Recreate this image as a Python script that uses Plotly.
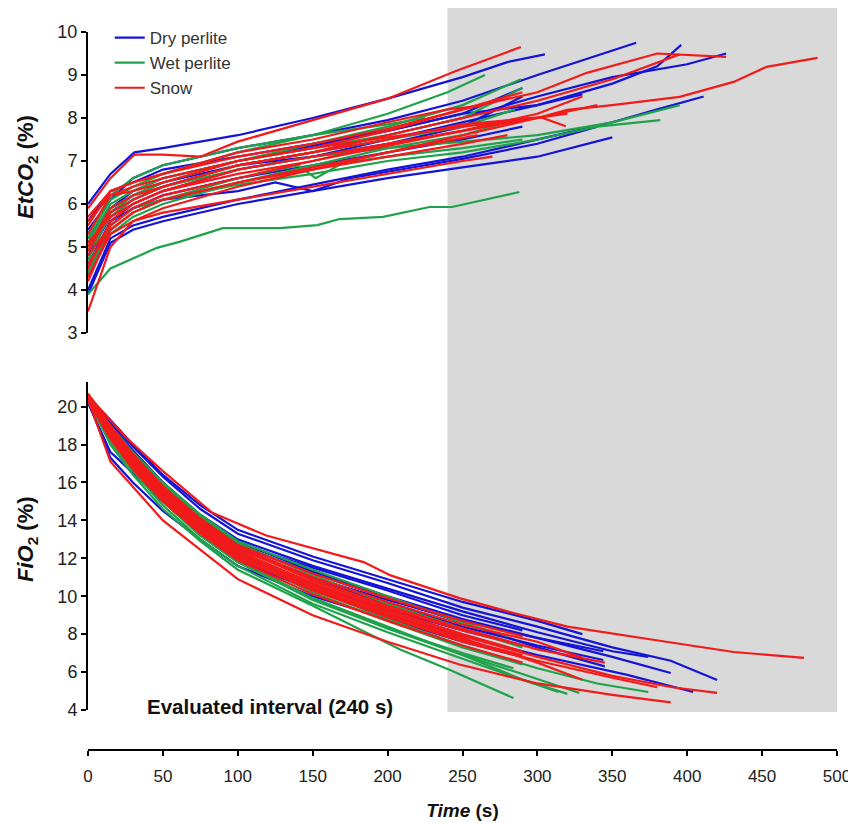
import plotly.graph_objects as go

# ---------------- data: each line = list of [time_s, value] ----------------
etco2_dry = [
    [[0,6.0],[15,6.7],[31,7.2],[50,7.3],[100,7.6],[150,8.0],[200,8.45],[250,8.95],[280,9.3],[305,9.48]],
    [[0,5.4],[15,6.1],[30,6.6],[50,6.9],[100,7.3],[150,7.6],[200,7.95],[250,8.4],[300,9.0],[340,9.45],[366,9.75]],
    [[0,4.3],[15,5.6],[30,6.0],[50,6.3],[100,6.8],[150,7.1],[200,7.5],[250,7.9],[300,8.3],[350,8.8],[380,9.2],[396,9.7]],
    [[0,4.0],[15,5.2],[30,5.5],[50,5.7],[100,6.1],[150,6.45],[200,6.8],[250,7.1],[300,7.5],[350,7.9],[380,8.2],[411,8.5]],
    [[0,3.9],[15,5.1],[30,5.4],[50,5.6],[100,6.0],[150,6.3],[200,6.6],[250,6.85],[300,7.1],[350,7.55]],
    [[0,5.0],[15,5.8],[30,6.2],[50,6.5],[100,6.9],[150,7.2],[200,7.6],[250,8.0],[300,8.5],[350,8.95],[400,9.25],[426,9.5]],
    [[0,4.6],[15,5.6],[30,5.9],[50,6.1],[100,6.3],[125,6.5],[150,6.3],[175,6.6],[200,6.75],[250,7.05],[300,7.4],[340,7.8]],
    [[0,4.8],[15,5.7],[30,6.1],[50,6.4],[100,6.9],[150,7.1],[200,7.4],[250,7.8],[290,8.5]],
    [[0,5.2],[15,5.9],[30,6.3],[50,6.6],[100,7.0],[150,7.35],[200,7.7],[250,8.1],[300,8.3],[330,8.55]],
    [[0,4.4],[15,5.5],[30,5.9],[50,6.2],[100,6.6],[150,6.9],[200,7.2],[250,7.5],[290,7.8]],
    [[0,5.6],[15,6.3],[30,6.5],[50,6.8],[100,7.1],[150,7.4],[200,7.7],[250,8.1],[290,8.7]],
]
etco2_wet = [
    [[0,3.9],[15,4.5],[46,4.98],[61,5.12],[90,5.44],[128,5.44],[153,5.51],[168,5.65],[197,5.7],[228,5.93],[243,5.93],[288,6.28]],
    [[0,4.6],[15,5.5],[30,5.9],[50,6.1],[100,6.45],[150,6.7],[200,7.0],[250,7.2],[300,7.5],[340,7.8],[382,7.95]],
    [[0,5.0],[15,5.9],[30,6.2],[50,6.4],[100,6.8],[150,7.1],[200,7.3],[250,7.45],[300,7.6],[350,7.9],[395,8.3]],
    [[0,5.1],[15,6.0],[30,6.3],[50,6.6],[100,7.0],[150,7.4],[200,7.8],[250,8.3],[289,8.9]],
    [[0,5.3],[15,6.2],[30,6.6],[50,6.9],[100,7.3],[150,7.6],[200,8.1],[240,8.6],[265,9.0]],
    [[0,4.5],[15,5.4],[30,5.8],[50,6.1],[100,6.6],[140,6.9],[152,6.6],[170,6.95],[200,7.1],[250,7.3],[290,7.5]],
    [[0,4.7],[15,5.8],[30,6.2],[50,6.5],[100,7.0],[150,7.3],[200,7.6],[250,8.0],[290,8.7]],
    [[0,4.9],[15,5.7],[30,6.1],[50,6.4],[100,6.9],[150,7.2],[200,7.5],[250,7.8],[285,8.2]],
    [[0,4.4],[15,5.3],[30,5.7],[50,6.0],[100,6.5],[150,6.9],[200,7.3],[250,7.6],[280,7.9]],
    [[0,5.2],[15,6.1],[30,6.4],[50,6.7],[100,7.2],[150,7.6],[200,7.85],[225,8.0]],
]
etco2_snow = [
    [[0,5.9],[15,6.6],[31,7.15],[50,7.15],[75,7.1],[100,7.45],[150,7.95],[200,8.45],[246,9.1],[289,9.65]],
    [[0,5.6],[15,6.2],[30,6.4],[50,6.6],[100,7.0],[150,7.3],[200,7.55],[250,7.8],[300,8.0],[320,8.19],[350,8.3],[395,8.49],[431,8.84],[453,9.19],[487,9.4]],
    [[0,5.5],[15,6.3],[30,6.5],[50,6.7],[100,7.1],[150,7.4],[200,7.75],[250,8.2],[300,8.6],[333,9.05],[380,9.5],[426,9.42]],
    [[0,5.0],[15,5.9],[30,6.2],[50,6.4],[100,6.9],[150,7.2],[200,7.6],[250,8.0],[300,8.4],[350,8.9],[395,9.48]],
    [[0,4.9],[15,5.8],[30,6.1],[50,6.4],[100,6.9],[150,7.2],[200,7.5],[250,7.85],[302,8.02],[319,7.81]],
    [[0,3.5],[15,5.0],[30,5.6],[50,5.9],[100,6.4],[150,6.8],[200,7.2],[250,7.6],[300,8.0],[340,8.3]],
    [[0,4.5],[15,5.6],[30,6.0],[50,6.3],[100,6.8],[150,7.1],[200,7.4],[250,7.7],[290,8.0]],
    [[0,5.3],[15,6.2],[30,6.3],[50,6.5],[100,7.0],[150,7.3],[200,7.7],[250,8.2],[290,8.6]],
    [[0,4.8],[15,5.5],[30,5.9],[50,6.2],[100,6.6],[150,7.0],[200,7.35],[250,7.7],[300,8.1],[330,8.5]],
    [[0,4.2],[15,5.4],[30,5.8],[50,6.1],[100,6.5],[150,6.85],[200,7.2],[260,7.6]],
    [[0,5.7],[15,6.3],[30,6.5],[50,6.7],[100,7.2],[150,7.5],[200,7.9],[240,8.2],[262,8.28]],
    [[0,5.1],[15,5.7],[30,6.0],[50,6.3],[100,6.7],[150,7.0],[200,7.4],[250,7.7],[300,8.0],[320,8.1]],
    [[0,4.6],[15,5.4],[30,5.8],[50,6.1],[100,6.5],[150,6.8],[200,7.1],[250,7.4],[280,7.6]],
    [[0,4.3],[15,5.3],[30,5.6],[50,5.8],[100,6.1],[150,6.4],[200,6.7],[250,7.0],[270,7.1]],
]

fio2_dry = [
    [[0,20.5],[15,19.2],[30,17.9],[50,16.3],[75,14.6],[100,13.3],[150,11.9],[200,10.7],[250,9.4],[300,8.4],[350,7.3],[389,6.6],[420,5.58]],
    [[0,20.4],[15,19.0],[30,17.6],[50,16.0],[75,14.3],[100,13.0],[150,11.6],[200,10.4],[250,9.2],[300,8.1],[350,7.1],[374,6.8]],
    [[0,20.6],[15,19.1],[30,17.7],[50,16.0],[75,14.2],[100,12.9],[150,11.3],[200,10.0],[250,8.8],[300,7.8],[350,6.8],[389,5.95]],
    [[0,20.3],[15,18.6],[30,17.0],[50,15.3],[75,13.7],[100,12.5],[150,11.0],[200,9.8],[250,8.7],[300,7.8],[344,7.1]],
    [[0,20.5],[15,18.8],[30,17.3],[50,15.6],[75,13.9],[100,12.6],[150,10.9],[200,9.6],[250,8.4],[300,7.4],[344,6.64]],
    [[0,20.2],[15,17.6],[30,16.5],[50,15.0],[75,13.3],[100,11.9],[150,10.3],[200,9.0],[250,7.9],[300,6.9],[360,5.85],[404,4.95]],
    [[0,20.4],[15,18.3],[30,16.8],[50,15.1],[75,13.5],[100,12.2],[150,10.6],[200,9.3],[250,8.2],[290,7.4]],
    [[0,20.6],[15,18.9],[30,17.4],[50,15.8],[75,14.2],[100,12.8],[150,11.5],[200,10.3],[250,9.0],[290,8.2]],
    [[0,20.5],[15,19.3],[30,18.0],[50,16.4],[75,14.8],[100,13.5],[150,12.1],[200,10.9],[250,9.7],[300,8.7],[330,8.0]],
    [[0,20.3],[15,17.3],[30,16.0],[50,14.5],[75,13.0],[100,11.6],[150,10.0],[200,8.8],[250,7.6],[290,6.8]],
    [[0,20.5],[15,18.7],[30,17.2],[50,15.6],[75,14.0],[100,12.7],[150,11.2],[200,9.9],[250,8.6],[300,7.3],[345,6.3]],
]
fio2_wet = [
    [[0,20.4],[15,18.0],[30,16.4],[50,14.6],[75,12.9],[100,11.4],[150,9.5],[208,7.2],[242,6.1],[284,4.63]],
    [[0,20.5],[15,18.5],[30,16.9],[50,15.1],[75,13.3],[100,11.9],[150,9.9],[200,8.3],[250,6.9],[290,5.9],[328,4.9]],
    [[0,20.4],[15,18.4],[30,16.8],[50,15.0],[75,13.2],[100,11.8],[150,9.9],[200,8.4],[250,6.9],[290,5.6],[314,4.95]],
    [[0,20.6],[15,18.8],[30,17.3],[50,15.6],[75,13.8],[100,12.4],[150,10.4],[200,8.8],[250,7.4],[300,6.2],[340,5.4],[374,4.95]],
    [[0,20.3],[15,18.4],[30,16.8],[50,15.0],[75,13.2],[100,11.8],[150,9.8],[200,8.3],[250,7.0],[284,6.2]],
    [[0,20.5],[15,18.9],[30,17.5],[50,15.9],[75,14.2],[100,12.8],[150,11.1],[200,9.6],[250,8.3],[290,7.3]],
    [[0,20.4],[15,18.7],[30,17.1],[50,15.4],[75,13.6],[100,12.2],[150,10.2],[200,8.7],[250,7.3],[290,6.4]],
    [[0,20.6],[15,19.0],[30,17.6],[50,16.0],[75,14.3],[100,12.9],[150,11.4],[200,10.0],[250,8.6],[280,7.9]],
    [[0,20.3],[15,18.1],[30,16.6],[50,14.8],[75,13.0],[100,11.6],[150,9.6],[200,8.1],[250,6.7],[290,5.6],[320,4.85]],
]
fio2_snow = [
    [[0,20.6],[25,18.4],[50,16.6],[83,14.4],[119,13.2],[150,12.55],[184,11.8],[202,11.1],[248,9.9],[280,9.2],[320,8.4],[386,7.6],[431,7.06],[478,6.75]],
    [[0,20.4],[15,17.1],[50,14.0],[100,10.9],[150,9.0],[200,7.6],[248,6.4],[300,5.4],[350,4.8],[389,4.4]],
    [[0,20.5],[15,18.6],[30,17.1],[50,15.4],[75,13.7],[100,12.3],[150,10.6],[200,9.2],[250,7.9],[300,6.8],[350,5.8],[390,5.2],[420,4.9]],
    [[0,20.6],[15,18.8],[30,17.3],[50,15.6],[75,13.9],[100,12.6],[150,11.0],[200,9.7],[250,8.5],[300,7.6],[330,6.75]],
    [[0,20.4],[15,18.5],[30,16.9],[50,15.2],[75,13.5],[100,12.1],[150,10.4],[200,9.0],[250,7.7],[300,6.6],[350,5.7],[380,5.2]],
    [[0,20.5],[15,18.7],[30,17.2],[50,15.5],[75,13.8],[100,12.4],[150,10.7],[200,9.3],[250,8.0],[290,7.1]],
    [[0,20.7],[15,19.0],[30,17.5],[50,15.8],[75,14.1],[100,12.7],[150,11.2],[200,9.9],[250,8.7],[290,7.9]],
    [[0,20.3],[15,18.3],[30,16.7],[50,15.0],[75,13.3],[100,11.9],[150,10.1],[200,8.7],[250,7.4],[290,6.5]],
    [[0,20.5],[15,18.6],[30,17.0],[50,15.3],[75,13.6],[100,12.2],[150,10.5],[200,9.1],[250,7.8],[300,6.5],[330,5.6]],
    [[0,20.6],[15,18.9],[30,17.4],[50,15.7],[75,14.0],[100,12.6],[150,10.8],[200,9.4],[250,8.2],[290,7.4]],
    [[0,20.4],[15,18.4],[30,16.8],[50,15.1],[75,13.4],[100,12.0],[150,10.3],[200,8.9],[250,7.6],[290,6.8]],
    [[0,20.5],[15,18.8],[30,17.2],[50,15.5],[75,13.8],[100,12.5],[150,10.9],[200,9.5],[250,8.3],[300,7.2],[345,6.5]],
    [[0,20.6],[15,18.5],[30,16.9],[50,15.2],[75,13.5],[100,12.1],[150,10.4],[200,9.0],[250,7.7],[290,6.9]],
]

colors = {"Dry perlite": "#1414d8", "Wet perlite": "#1fa34a", "Snow": "#f21a1a"}
evaluated_end = 240
x_ticks = [0, 50, 100, 150, 200, 250, 300, 350, 400, 450, 500]
etco2_ticks = [3, 4, 5, 6, 7, 8, 9, 10]
fio2_ticks = [4, 6, 8, 10, 12, 14, 16, 18, 20]

# ---------------- figure ----------------
fig = go.Figure()

def add_lines(lines, name, yaxis, legend):
    for i, ln in enumerate(lines):
        fig.add_trace(go.Scatter(
            x=[p[0] for p in ln], y=[p[1] for p in ln], mode="lines",
            line=dict(color=colors[name], width=2.2),
            name=name, legendgroup=name,
            showlegend=(legend and i == 0), yaxis=yaxis, xaxis="x",
            hoverinfo="skip"))

for name, top in [("Dry perlite", etco2_dry), ("Wet perlite", etco2_wet), ("Snow", etco2_snow)]:
    add_lines(top, name, "y", True)
for name, bot in [("Dry perlite", fio2_dry), ("Wet perlite", fio2_wet), ("Snow", fio2_snow)]:
    add_lines(bot, name, "y2", False)

# page has an 8px body margin; map page pixel positions to paper fractions
W, H = 848, 815
AX_Y, TOP_Y = 750, 8
LEFT_X, RIGHT_X = 88, 837
def py(pix):
    return (AX_Y - pix) / (AX_Y - TOP_Y)
def px(pix):
    return (pix - LEFT_X) / (RIGHT_X - LEFT_X)

fig.add_shape(type="rect", xref="x", yref="paper", x0=evaluated_end, x1=500,
              y0=py(712), y1=1.0, fillcolor="#d9d9d9", line=dict(width=0), layer="below")

fig.add_annotation(x=121.5, y=4.2, xref="x", yref="y2", text="<b>Evaluated interval (240 s)</b>",
                   showarrow=False, font=dict(size=20.5, color="#111"), yanchor="middle")

FONT = "Liberation Sans, Arial, sans-serif"
title_font = dict(family=FONT, size=22, color="#111")
fig.add_annotation(x=px(27), y=py(167), xref="paper", yref="paper", textangle=-90,
                   text="<b><i>EtCO</i><sub>2</sub> (%)</b>", showarrow=False, font=title_font,
                   xanchor="center", yanchor="middle")
fig.add_annotation(x=px(27), y=py(539), xref="paper", yref="paper", textangle=-90,
                   text="<b><i>FiO</i><sub>2</sub> (%)</b>", showarrow=False, font=title_font,
                   xanchor="center", yanchor="middle")

ytick_font = dict(family=FONT, size=18, color="#222")
xtick_font = dict(family=FONT, size=17, color="#222")
common = dict(showline=True, linecolor="black", linewidth=2, ticks="outside", ticklen=5,
              tickwidth=2, tickcolor="black", showgrid=False, zeroline=False)
fig.update_layout(
    width=W, height=H,
    margin=dict(l=80, r=19, t=0, b=H - (AX_Y - TOP_Y), autoexpand=False),
    paper_bgcolor="white", plot_bgcolor="rgba(0,0,0,0)",
    font=dict(family=FONT, color="#111"),
    showlegend=True,
    legend=dict(x=0.029, y=py(20), xanchor="left", yanchor="top", bgcolor="rgba(0,0,0,0)",
                font=dict(size=17, color="#333"), tracegroupgap=0, itemwidth=30),
    xaxis=dict(range=[0, 500], anchor="free", position=0, tickvals=x_ticks, tickfont=xtick_font,
               ticklabelstandoff=6,
               title=dict(text="<b><i>Time</i> (s)</b>", font=dict(size=19, color="#111"), standoff=17),
               **common),
    yaxis=dict(domain=[py(333), py(32)], range=[3, 10], tickvals=etco2_ticks, tickfont=ytick_font,
               anchor="x", **common),
    yaxis2=dict(domain=[py(710), py(382)], range=[4, 21.3], tickvals=fio2_ticks, tickfont=ytick_font,
                anchor="x", **common),
)

fig.write_html("out.html")
